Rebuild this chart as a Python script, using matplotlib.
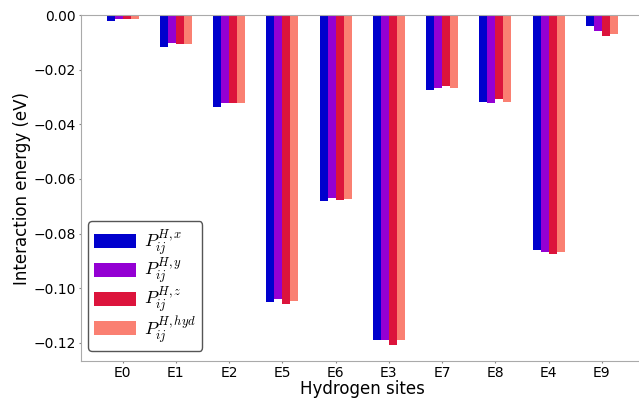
import matplotlib
matplotlib.use("Agg")
import matplotlib.pyplot as plt
import numpy as np

plt.rcParams['mathtext.fontset'] = 'cm'

sites = ["E0", "E1", "E2", "E5", "E6", "E3", "E7", "E8", "E4", "E9"]
p_x   = [-0.0022, -0.0116, -0.0335, -0.1049, -0.0680, -0.1189, -0.0276, -0.0320, -0.0860, -0.0040]
p_y   = [-0.0013, -0.0104, -0.0323, -0.1040, -0.0671, -0.1189, -0.0268, -0.0323, -0.0868, -0.0059]
p_z   = [-0.0013, -0.0107, -0.0323, -0.1056, -0.0677, -0.1206, -0.0260, -0.0307, -0.0876, -0.0076]
p_hyd = [-0.0014, -0.0107, -0.0323, -0.1048, -0.0673, -0.1189, -0.0268, -0.0320, -0.0868, -0.0068]

series = [p_x, p_y, p_z, p_hyd]
labels = [r"$P_{ij}^{H,x}$", r"$P_{ij}^{H,y}$", r"$P_{ij}^{H,z}$", r"$P_{ij}^{H,hyd}$"]
colors = ["mediumblue", "darkviolet", "crimson", "salmon"]

fig = plt.figure(figsize=(6.39, 3.99), dpi=100)
ax = fig.add_axes([0.1268, 0.0952, 0.88, 0.8672])

x = np.arange(len(sites))
w = 0.15
for i, (vals, lab, col) in enumerate(zip(series, labels, colors)):
    ax.bar(x + (i - 1.5) * w, vals, w, color=col, label=lab)

ax.set_xticks(x)
ax.set_xticklabels(sites, fontsize=10)
ax.tick_params(axis='y', labelsize=10)
ax.tick_params(axis='both', length=1.5, pad=2, colors="#888888", labelcolor="black")
ax.set_xlabel("Hydrogen sites", fontsize=12, labelpad=0)
ax.set_ylabel("Interaction energy (eV)", fontsize=12, labelpad=2)
for s in ax.spines.values():
    s.set_color("#aaaaaa")
ax.spines['right'].set_visible(False)

leg = ax.legend(loc="lower left", bbox_to_anchor=(0.0125, 0.029), borderaxespad=0,
                fontsize=13, frameon=True, framealpha=1, labelspacing=-0.08,
                borderpad=0.35, handletextpad=0.45, handlelength=2.3, handleheight=0.8,
                edgecolor="#555555", fancybox=True)

fig.savefig("out.png", dpi=100)
